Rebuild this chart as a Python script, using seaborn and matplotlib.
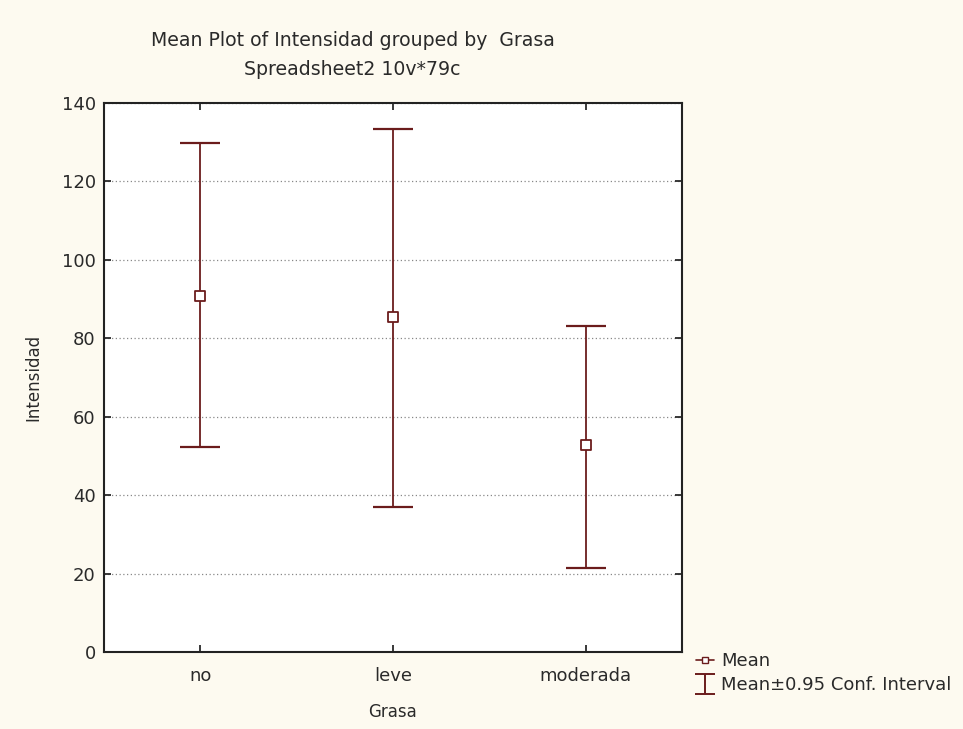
import numpy as np
import pandas as pd
import matplotlib
matplotlib.use("Agg")
import matplotlib.pyplot as plt
import seaborn as sns
from matplotlib.lines import Line2D
from matplotlib.path import Path

# values
grasa = ["no", "leve", "moderada"]
mean_int = [90.8, 85.4, 52.8]
ci_low = [52.2, 37.0, 21.4]
ci_high = [129.8, 133.4, 83.2]

df = pd.DataFrame({"Grasa": grasa, "Intensidad": mean_int, "lo": ci_low, "hi": ci_high})

sns.set_style("white")
plt.rcParams["font.family"] = ["DejaVu Sans"]

col = "#6b1c1c"
txt = "#2a2a2a"
fs = 13

fig = plt.figure(figsize=(9.63, 7.29), dpi=100, facecolor="#fdfaf0")
ax = fig.add_axes([0.108, 0.1056, 0.600, 0.7531])
ax.set_facecolor("white")

# CI bars
ax.errorbar(df["Grasa"], df["Intensidad"],
            yerr=[df["Intensidad"] - df["lo"], df["hi"] - df["Intensidad"]],
            fmt="none", ecolor=col, elinewidth=1.3, capsize=14.5, capthick=1.6,
            zorder=2)

# means
sns.scatterplot(data=df, x="Grasa", y="Intensidad", marker="s", s=55,
                facecolor="white", edgecolor=col, linewidth=1.3, ax=ax, zorder=3)

ax.set_xlim(-0.5, 2.5)
ax.set_ylim(0, 140)
ax.set_yticks(np.arange(0, 141, 20))
ax.yaxis.grid(True, linestyle=(0, (1, 2)), color="#888888", linewidth=0.9)
ax.xaxis.grid(False)

for s in ax.spines.values():
    s.set_color("#222222")
    s.set_linewidth(1.5)

ax.tick_params(direction="in", length=5, width=1.3, colors=txt,
               labelsize=fs, left=True, right=True, top=True, bottom=True,
               labelright=False, labeltop=False, pad=6)
ax.tick_params(axis="x", pad=11)

ax.set_xlabel("Grasa", fontsize=fs - 1, color=txt, labelpad=13)
ax.set_ylabel("Intensidad", fontsize=fs - 1, color=txt, labelpad=14)

fig.text(0.366, 0.944, "Mean Plot of Intensidad grouped by  Grasa",
         ha="center", va="center", fontsize=13.6, color=txt)
fig.text(0.366, 0.904, "Spreadsheet2 10v*79c",
         ha="center", va="center", fontsize=13.6, color=txt)

# legend handles
mean_handle = Line2D([0], [0], color=col, lw=1.2, marker="s", markersize=5,
                     markerfacecolor="white", markeredgecolor=col)
ibeam = Path([(-0.5, 0.5), (0.5, 0.5), (0, 0.5), (0, -0.5), (-0.5, -0.5), (0.5, -0.5)],
             [Path.MOVETO, Path.LINETO, Path.MOVETO, Path.LINETO, Path.MOVETO, Path.LINETO])
ci_handle = Line2D([0], [0], linestyle="none", marker=ibeam, markersize=15,
                   markeredgewidth=1.4, markeredgecolor=col, fillstyle="none")
fig.legend([mean_handle, ci_handle], ["Mean", "Mean\u00b10.95 Conf. Interval"],
           loc="upper left", bbox_to_anchor=(0.706, 0.128), frameon=False,
           handlelength=1.0, handletextpad=0.4, labelspacing=0.35,
           fontsize=fs, labelcolor=txt)

fig.savefig("out.png", dpi=100, facecolor=fig.get_facecolor())
